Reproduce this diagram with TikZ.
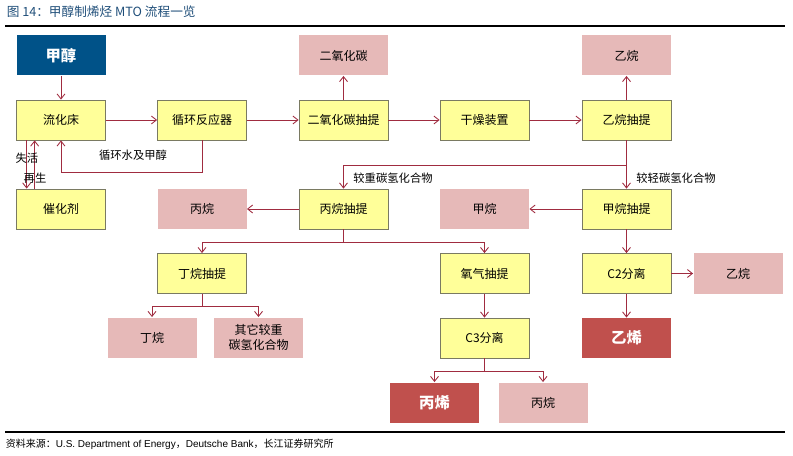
\documentclass[tikz,border=0pt]{standalone}
\usepackage{fontspec}
\usetikzlibrary{arrows.meta}
\setmainfont{Noto Sans CJK SC}
\newfontfamily\latinfont{Liberation Sans}
\definecolor{unitfill}{HTML}{FFFF99}
\definecolor{unitline}{HTML}{7A7A62}
\definecolor{pinkfill}{HTML}{E6B9B8}
\definecolor{olefin}{HTML}{C0504D}
\definecolor{feedblue}{HTML}{005288}
\definecolor{flow}{HTML}{A02C40}
\definecolor{titleblue}{HTML}{1F4E79}

\begin{document}
\begin{tikzpicture}[x=0.75pt, y=-0.75pt, >={Straight Barb[length=3.8pt, width=6pt]}]
				\useasboundingbox (0,0) rectangle (793,456);
				\tikzstyle{every node}=[inner sep=1pt, align=center, font=\fontsize{9pt}{11pt}\selectfont]
				\tikzstyle{box}=[minimum width=66.75pt, minimum height=30pt]
				\tikzstyle{unit}=[box, fill=unitfill, draw=unitline, line width=0.6pt]
				\tikzstyle{product}=[box, fill=pinkfill]
				\tikzstyle{olefinbox}=[box, fill=olefin, text=white, font=\fontsize{11.5pt}{13pt}\selectfont\bfseries]
				\tikzstyle{feedbox}=[box, fill=feedblue, text=white, font=\fontsize{11.5pt}{13pt}\selectfont\bfseries]
				\tikzstyle{flowlabel}=[font=\fontsize{8.5pt}{10pt}\selectfont]
				\tikzset{every path/.style={draw=flow, line width=0.65pt}}
				% title and rules
				\node[anchor=west, text=titleblue, font=\fontsize{9.5pt}{12pt}\selectfont] (title) at (5,12) {图 14：甲醇制烯烃 MTO 流程一览};
				\draw[black, line width=0.9pt] (5,26) -- (785,26);
				\draw[black, line width=0.9pt] (5,432) -- (785,432);
				\node[anchor=west, font=\fontsize{7.5pt}{9pt}\selectfont] (source) at (4,444) {资料来源：{\latinfont U.S. Department of Energy}，{\latinfont Deutsche Bank}，长江证券研究所};
				% boxes
				\node[feedbox] (feed) at (61, 55.5) {甲醇};
				\node[unit] (bed) at (61, 120) {流化床};
				\node[unit] (reactor) at (202, 120) {循环反应器};
				\node[unit] (coext) at (343.5, 120) {二氧化碳抽提};
				\node[product] (co2) at (343.5, 55.5) {二氧化碳};
				\node[unit] (dryer) at (484.5, 120) {干燥装置};
				\node[unit] (c2ext) at (626.5, 120) {乙烷抽提};
				\node[product] (ethaneA) at (626.5, 55.5) {乙烷};
				\node[unit] (cat) at (61, 209) {催化剂};
				\node[product] (propaneA) at (202, 209) {丙烷};
				\node[unit] (c3ext) at (343.5, 209) {丙烷抽提};
				\node[product] (methane) at (484.5, 209) {甲烷};
				\node[unit] (c1ext) at (626.5, 209) {甲烷抽提};
				\node[unit] (c4ext) at (202, 273.5) {丁烷抽提};
				\node[product] (butane) at (152, 337.5) {丁烷};
				\node[product] (heavy) at (258.5, 337.5) {其它较重\\碳氢化合物};
				\node[unit] (o2ext) at (484.5, 273.5) {氧气抽提};
				\node[unit] (c3sep) at (484.5, 338) {C3分离};
				\node[unit] (c2sep) at (626.5, 273.5) {C2分离};
				\node[product] (ethaneB) at (738, 273.5) {乙烷};
				\node[olefinbox] (ethylene) at (626.5, 338) {乙烯};
				\node[olefinbox] (propylene) at (434.5, 402.5) {丙烯};
				\node[product] (propaneB) at (543, 402.5) {丙烷};
				% branch points
				\coordinate (rc) at (202, 172);
				\coordinate (hb) at (626.5, 165);
				\coordinate (pb) at (343.5, 242);
				\coordinate (bb) at (202, 306);
				\coordinate (sb) at (484.5, 371);
				% flows
				\draw [->] (feed) -- (bed);
				\draw [->] (bed) -- (reactor);
				\draw [->] (reactor) -- (coext);
				\draw [->] (coext) -- (co2);
				\draw [->] (coext) -- (dryer);
				\draw [->] (dryer) -- (c2ext);
				\draw [->] (c2ext) -- (ethaneA);
				\draw [->] (reactor) -- (rc) -| (bed);
				\node[flowlabel] (recycle) at (133, 155) {循环水及甲醇};
				\draw [->] ([xshift=7.9pt]bed.south west) -- ([xshift=7.9pt]cat.north west);
				\draw [->] ([xshift=13.9pt]cat.north west) -- ([xshift=13.9pt]bed.south west);
				\node[flowlabel] (deact) at (27, 158) {失活};
				\node[flowlabel] (regen) at (35, 178) {再生};
				\draw [->] (c2ext) -- (c1ext);
				\node[flowlabel] (light) at (676, 178) {较轻碳氢化合物};
				\draw [->] (hb) -| (c3ext);
				\node[flowlabel] (heavier) at (393, 178) {较重碳氢化合物};
				\draw [->] (c3ext) -- (propaneA);
				\draw [->] (c1ext) -- (methane);
				\draw (c3ext) -- (pb);
				\draw [->] (pb) -| (c4ext);
				\draw [->] (pb) -| (o2ext);
				\draw [->] (c1ext) -- (c2sep);
				\draw [->] (c2sep) -- (ethaneB);
				\draw [->] (c2sep) -- (ethylene);
				\draw (c4ext) -- (bb);
				\draw [->] (bb) -| (butane);
				\draw [->] (bb) -| (heavy);
				\draw [->] (o2ext) -- (c3sep);
				\draw (c3sep) -- (sb);
				\draw [->] (sb) -| (propylene);
				\draw [->] (sb) -| (propaneB);
		\end{tikzpicture}
\end{document}
